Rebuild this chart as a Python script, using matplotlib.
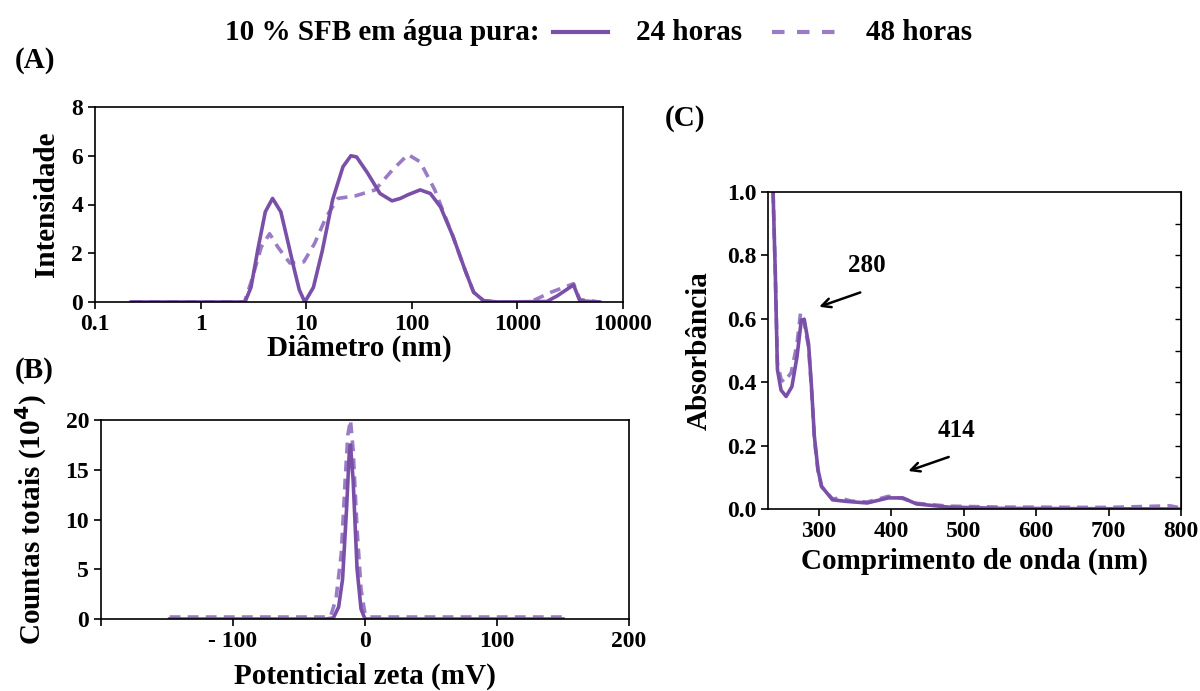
import numpy as np
import matplotlib.pyplot as plt
from matplotlib.lines import Line2D

plt.rcParams['font.family'] = ['Liberation Serif', 'DejaVu Serif']
plt.rcParams['font.weight'] = 'bold'

SOLID = '#7a4fa8'
DASHED = '#9a7cc6'

# (A) DLS intensity vs diameter
diam_24 = [0.22, 2.63, 3.0, 3.5, 4.1, 4.8, 5.75, 6.6, 7.6, 8.6, 9.7, 11.7, 14.2, 17.8, 22.3, 26.5,
           30, 38, 50, 65, 78, 92, 120, 150, 187, 245, 320, 385, 480, 660, 1900, 2380, 3400,
           3900, 6000]
int_24 = [0, 0, 0.6, 2.2, 3.7, 4.25, 3.7, 2.6, 1.45, 0.5, 0, 0.6, 2.1, 4.2, 5.55, 6.0,
          5.95, 5.3, 4.45, 4.15, 4.25, 4.4, 4.6, 4.45, 3.9, 2.7, 1.3, 0.4, 0.05, 0, 0.02, 0.25,
          0.7, 0.05, 0]
diam_48 = [0.22, 2.6, 3.0, 3.75, 4.5, 5.4, 7.0, 9.5, 12, 15.5, 20, 29, 45, 65, 92, 120, 165,
           245, 320, 385, 480, 660, 1320, 2080, 3400, 3900, 6000]
int_48 = [0, 0, 0.8, 2.25, 2.8, 2.25, 1.6, 1.65, 2.4, 3.5, 4.25, 4.35, 4.6, 5.4, 6.05, 5.75, 4.6,
          2.7, 1.3, 0.4, 0.05, 0, 0, 0.4, 0.75, 0.1, 0]

# (B) zeta potential
zeta_24 = [-148, -30, -24, -20, -17, -14, -12, -11, -9, -6, -3, 0, 5, 150]
counts_24 = [0, 0, 0.1, 1.2, 4.0, 11, 16.5, 17.5, 14, 5, 1, 0, 0, 0]
zeta_48 = [-148, -30, -26, -22, -18, -15, -13, -11, -9, -6, -3, 0, 3, 10, 150]
counts_48 = [0.2, 0.2, 0.3, 2.0, 6.5, 14, 18.5, 20, 17, 9, 3, 0.5, 0.2, 0.2, 0.2]

# (C) UV-vis absorbance
wl_24 = [237, 240, 243, 248, 255, 263, 270, 276, 280, 286, 290, 294, 299, 304, 319, 338, 367,
         396, 416, 435, 479, 552, 800]
abs_24 = [1.0, 0.75, 0.44, 0.375, 0.355, 0.386, 0.48, 0.596, 0.598, 0.52, 0.386, 0.229, 0.124,
          0.071, 0.029, 0.024, 0.019, 0.035, 0.035, 0.016, 0.006, 0.002, 0]
wl_48 = [237, 240, 243, 248, 252, 262, 270, 275, 279, 286, 290, 294, 299, 304, 319, 330, 345,
         367, 396, 416, 435, 479, 552, 700, 785, 800]
abs_48 = [1.0, 0.75, 0.46, 0.41, 0.40, 0.43, 0.52, 0.62, 0.60, 0.51, 0.38, 0.22, 0.12, 0.07,
          0.032, 0.034, 0.025, 0.022, 0.04, 0.033, 0.018, 0.009, 0.006, 0.005, 0.01, 0.003]

fig = plt.figure(figsize=(12, 6.91), dpi=100)

axA = fig.add_axes([95 / 1200, 1 - 302 / 691, 528 / 1200, 195 / 691])
axB = fig.add_axes([101 / 1200, 1 - 619 / 691, 528 / 1200, 199 / 691])
axC = fig.add_axes([768 / 1200, 1 - 509 / 691, 413 / 1200, 317 / 691])

solid_kw = dict(color=SOLID, lw=2.6, solid_joinstyle='round')
dash_kw = dict(color=DASHED, lw=2.6, ls=(0, (3, 2)))

# panel A
axA.plot(diam_48, int_48, **dash_kw)
axA.plot(diam_24, int_24, **solid_kw)
axA.set_xscale('log')
axA.set_xlim(0.1, 10000)
axA.set_ylim(0, 8)
axA.set_xticks([0.1, 1, 10, 100, 1000, 10000])
axA.set_xticklabels(['0.1', '1', '10', '100', '1000', '10000'])
axA.minorticks_off()
axA.set_yticks([0, 2, 4, 6, 8])
axA.set_ylabel('Intensidade', fontsize=21, fontweight='bold', labelpad=8)
axA.set_xlabel('Diâmetro (nm)', fontsize=21, fontweight='bold', labelpad=0)

# panel B
axB.plot(zeta_48, counts_48, **dash_kw)
axB.plot(zeta_24, counts_24, **solid_kw)
axB.set_xlim(-200, 200)
axB.set_ylim(0, 20)
axB.set_xticks([-200, -100, 0, 100, 200])
axB.set_xticklabels(['', '- 100', '0', '100', '200'])
axB.set_yticks([0, 5, 10, 15, 20])
axB.set_ylabel('Countas totais (10$^4$)', fontsize=21, fontweight='bold', labelpad=12)
axB.set_xlabel('Potenticial zeta (mV)', fontsize=21, fontweight='bold', labelpad=8)

# panel C
axC.plot(wl_48, abs_48, **dash_kw)
axC.plot(wl_24, abs_24, **solid_kw)
axC.set_xlim(230, 800)
axC.set_ylim(0, 1.0)
axC.set_xticks([300, 400, 500, 600, 700, 800])
axC.set_yticks([0, 0.2, 0.4, 0.6, 0.8, 1.0])
axC.set_yticklabels(['0.0', '0.2', '0.4', '0.6', '0.8', '1.0'])
axC.set_ylabel('Absorbância', fontsize=21, fontweight='bold', labelpad=10)
axC.set_xlabel('Comprimento de onda (nm)', fontsize=21, fontweight='bold', labelpad=4)
right = axC.secondary_yaxis('right')
right.set_yticks(np.arange(0.1, 1.0, 0.1))
right.set_yticklabels([])
right.tick_params(direction='in', length=4, width=1.0)
axC.annotate('', xy=(297, 0.635), xytext=(361, 0.686),
             arrowprops=dict(arrowstyle='->', color='black', lw=1.8, mutation_scale=16))
axC.text(367, 0.768, '280', fontsize=18, fontweight='bold', ha='center', va='center')
axC.annotate('', xy=(420, 0.117), xytext=(483, 0.167),
             arrowprops=dict(arrowstyle='->', color='black', lw=1.8, mutation_scale=16))
axC.text(490, 0.249, '414', fontsize=18, fontweight='bold', ha='center', va='center')

for ax in (axA, axB, axC):
    for sp in ax.spines.values():
        sp.set_linewidth(1.2)
    ax.tick_params(axis='both', which='major', labelsize=17, length=5, width=1.2, direction='out')
    for lab in ax.get_xticklabels() + ax.get_yticklabels():
        lab.set_fontweight('bold')

# panel letters
fig.text(15 / 1200, 1 - 60 / 691, '(A)', fontsize=21, fontweight='bold', va='center')
fig.text(15 / 1200, 1 - 370 / 691, '(B)', fontsize=21, fontweight='bold', va='center')
fig.text(665 / 1200, 1 - 118 / 691, '(C)', fontsize=21, fontweight='bold', va='center')

# legend header
fig.text(540 / 1200, 1 - 32 / 691, '10 % SFB em água pura:', fontsize=21, fontweight='bold',
         ha='right', va='center')
fig.add_artist(Line2D([553 / 1200, 608 / 1200], [1 - 32 / 691] * 2, color=SOLID, lw=3))
fig.text(636 / 1200, 1 - 32 / 691, '24 horas', fontsize=21, fontweight='bold', va='center')
fig.add_artist(Line2D([772 / 1200, 836 / 1200], [1 - 32 / 691] * 2, color=DASHED, lw=3,
                      ls=(0, (3, 3))))
fig.text(866 / 1200, 1 - 32 / 691, '48 horas', fontsize=21, fontweight='bold', va='center')

fig.savefig('out.png', dpi=100)
